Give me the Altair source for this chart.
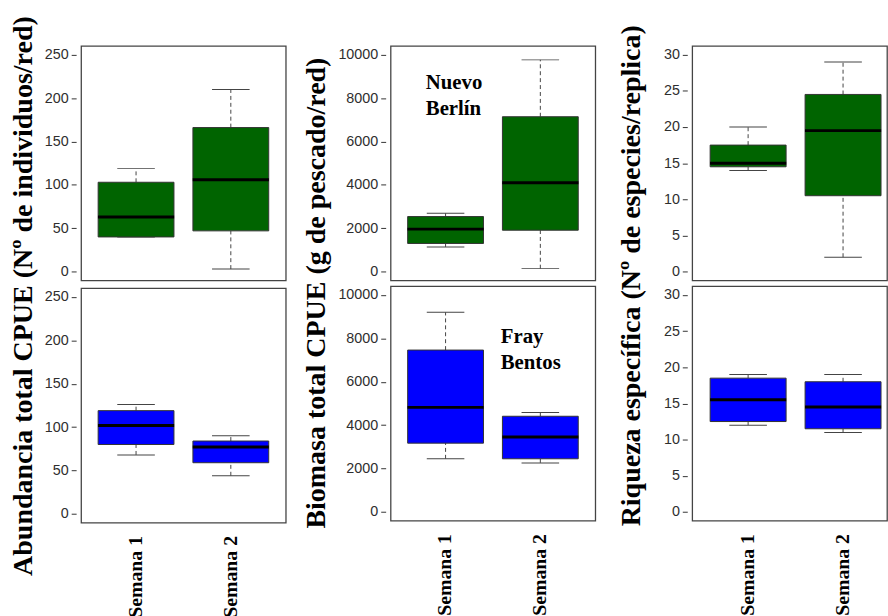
import altair as alt
import pandas as pd

weeks = ["Semana 1", "Semana 2"]

# five-number summaries per week: [lower whisker, Q1, median, Q3, upper whisker]
abund_nb = [[40, 40, 63, 103, 119], [3, 47, 106, 166, 210]]
abund_fb = [[68, 80, 102, 119, 126], [44, 59, 77, 84, 90]]
biom_nb = [[1140, 1300, 1960, 2540, 2690], [140, 1910, 4100, 7140, 9760]]
biom_fb = [[2450, 3170, 4820, 7460, 9200], [2260, 2450, 3450, 4410, 4580]]
riq_nb = [[14, 14.5, 15, 17.5, 20], [2, 10.5, 19.5, 24.5, 29]]
riq_fb = [[12, 12.5, 15.5, 18.5, 19], [11, 11.5, 14.5, 18, 19]]

site_colors = ["#006400", "#0000FF"]

abund_ticks = [0, 50, 100, 150, 200, 250]
biom_ticks = [0, 2000, 4000, 6000, 8000, 10000]
riq_ticks = [0, 5, 10, 15, 20, 25, 30]

col_titles = [
    "Abundancia total CPUE (Nº de individuos/red)",
    "Biomasa total CPUE (g de pescado/red)",
    "Riqueza específica (Nº de especies/replica)",
]

ann_text = [["Nuevo", "Berlín"], ["Fray", "Bentos"]]
ann_week = ["Semana 1", "Semana 2"]
ann_y = [8400, 7770]
ann_dx = [-20, -40]

PH = 237
SERIF = "Liberation Serif"
SANS = "Liberation Sans"

x_full = alt.Scale(domain=weeks, paddingInner=0.2, paddingOuter=0.18)
# last panel is cut by the right edge of the picture
x_cut = alt.Scale(domain=weeks, paddingInner=0.2, paddingOuter=0.126, align=0.75)


def panel(stats, color, ticks, bottom, xsc, pw, ann=None):
    df = pd.DataFrame({
        "week": weeks,
        "lo": [s[0] for s in stats],
        "q1": [s[1] for s in stats],
        "med": [s[2] for s in stats],
        "q3": [s[3] for s in stats],
        "hi": [s[4] for s in stats],
    })
    span = ticks[-1] - ticks[0]
    ysc = alt.Scale(domain=[ticks[0] - 0.04 * span, ticks[-1] + 0.04 * span],
                    nice=False, zero=False)
    yax = alt.Axis(values=ticks, format="d", title=None, grid=False, domain=False,
                   labelFont=SANS, labelFontSize=14.5, labelColor="#2e2e2e",
                   tickColor="#333333", tickSize=5, offset=5, labelPadding=3)
    if bottom:
        xax = alt.Axis(title=None, labelAngle=270, labelAlign="right",
                       labelBaseline="middle", labelFont=SERIF, labelFontWeight="bold",
                       labelFontSize=20, labelColor="black", ticks=False, domain=False,
                       labelPadding=13)
    else:
        xax = None

    def X():
        return alt.X("week:N", scale=xsc, axis=xax, sort=weeks)

    def Y(f):
        return alt.Y(f + ":Q", scale=ysc, axis=yax)

    base = alt.Chart(df)
    w_lo = base.mark_rule(strokeDash=[4, 3], color="#444444", strokeWidth=1).encode(
        x=X(), y=Y("lo"), y2="q1")
    w_hi = base.mark_rule(strokeDash=[4, 3], color="#444444", strokeWidth=1).encode(
        x=X(), y=Y("q3"), y2="hi")
    c_lo = base.mark_tick(size=38, thickness=1, color="#444444", opacity=1).encode(
        x=X(), y=Y("lo"))
    c_hi = base.mark_tick(size=38, thickness=1, color="#444444", opacity=1).encode(
        x=X(), y=Y("hi"))
    box = base.mark_bar(color=color, stroke="#333333", strokeWidth=1, opacity=1).encode(
        x=X(), y=Y("q1"), y2="q3")
    med = base.mark_tick(size=77, thickness=3, color="black", opacity=1).encode(
        x=X(), y=Y("med"))
    layers = [w_lo, w_hi, c_lo, c_hi, box, med]
    if ann is not None:
        i = ann
        adf = pd.DataFrame({"week": [ann_week[i]], "y": [ann_y[i]],
                            "t": [ann_text[i]]})
        txt = alt.Chart(adf).mark_text(
            font=SERIF, fontWeight="bold", fontSize=21, color="black",
            align="left", baseline="alphabetic", lineHeight=26, dx=ann_dx[i]
        ).encode(x=X(), y=Y("y"), text="t")
        layers.append(txt)
    return alt.layer(*layers).properties(width=pw, height=PH)


def column(nb, fb, ticks, title, spacing, shift, offset, xsc, pw, ann=False):
    top = panel(nb, site_colors[0], ticks, False, xsc, pw, 0 if ann else None)
    bot = panel(fb, site_colors[1], ticks, True, xsc, pw, 1 if ann else None)
    return alt.vconcat(top, bot, spacing=spacing, title=alt.TitleParams(
        text=title, orient="left", anchor="middle", font=SERIF, fontSize=28.3,
        fontWeight="bold", color="black", offset=offset, dx=shift))


col1 = column(abund_nb, abund_fb, abund_ticks, col_titles[0], 6, 36, 6, x_full, 207)
col2 = column(biom_nb, biom_fb, biom_ticks, col_titles[1], 4, 38, 6, x_full, 207, ann=True)
col3 = column(riq_nb, riq_fb, riq_ticks, col_titles[2], 4, 55.5, 17, x_cut, 197)

chart = alt.hconcat(col1, alt.hconcat(col2, col3, spacing=20), spacing=15).properties(
    padding={"left": 8, "top": 12, "right": 0, "bottom": 0},
    background="white",
).configure_view(stroke="#444444", strokeWidth=1.3)

chart.save("out.html", embed_options={"renderer": "svg", "actions": False})
